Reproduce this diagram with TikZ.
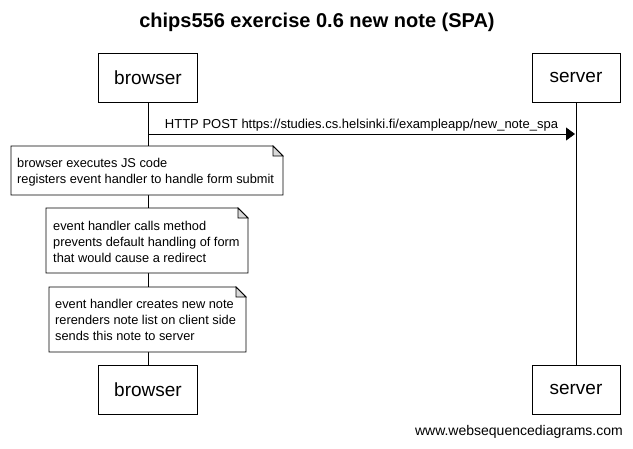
\documentclass[tikz,border=0pt]{standalone}
\usepackage{fontspec}
\setmainfont{Liberation Sans}
\usetikzlibrary{arrows.meta}
\tikzset{
  actor/.style={draw,line width=0.8pt,fill=white,minimum height=49pt,inner sep=0pt,font=\fontsize{19}{21}\selectfont},
  notebox/.style={align=left,inner sep=0pt,anchor=north west,font=\fontsize{12.8}{16}\selectfont},
  noteline/.style={draw,line width=0.8pt,fill=white},
  fold/.style={line width=0.8pt,fill=black!15},
  life/.style={line width=0.8pt},
  msg/.style={line width=0.8pt,-{Triangle[length=9pt,width=13pt]}},
}
\begin{document}
\begin{tikzpicture}[x=1pt,y=-1pt]
\useasboundingbox (0,0) rectangle (633,448);
\node[font=\bfseries\fontsize{20}{22}\selectfont] (title) at (317,22) {chips556 exercise 0.6 new note (SPA)};
\node[actor,minimum width=99pt] (bt) at (148,77.5) {browser};
\node[actor,minimum width=88pt] (st) at (576,77.5) {server};
\node[actor,minimum width=99pt] (bb) at (148,389.5) {browser};
\node[actor,minimum width=88pt] (sb) at (576,389.5) {server};
\draw[life] (bt.south) -- (bb.north);
\draw[life] (st.south) -- (sb.north);
\coordinate (a1) at (148,134);
\coordinate (a2) at (575,134);
\draw[msg] (a1) -- node[above=1pt,font=\fontsize{13}{15}\selectfont,inner sep=1pt] (m1) {HTTP POST https://studies.cs.helsinki.fi/exampleapp/new\_note\_spa} (a2);
% note 1
\coordinate (n1a) at (11,146); \coordinate (n1b) at (283,195);
\draw[noteline] (n1a) -- (273,146) -- (283,156) |- (n1b) -| cycle;
\draw[fold] (273,146) -- (273,156) -- (283,156) -- cycle;
\node[notebox] (n1) at (17,158) {browser executes JS code\\registers event handler to handle form submit};
% note 2
\coordinate (n2a) at (46,208); \coordinate (n2b) at (248,273);
\draw[noteline] (n2a) -- (238,208) -- (248,218) |- (n2b) -| cycle;
\draw[fold] (238,208) -- (238,218) -- (248,218) -- cycle;
\node[notebox] (n2) at (53,221) {event handler calls method\\prevents default handling of form\\that would cause a redirect};
% note 3
\coordinate (n3a) at (49,287); \coordinate (n3b) at (246,352);
\draw[noteline] (n3a) -- (236,287) -- (246,297) |- (n3b) -| cycle;
\draw[fold] (236,287) -- (236,297) -- (246,297) -- cycle;
\node[notebox] (n3) at (55,299) {event handler creates new note\\rerenders note list on client side\\sends this note to server};
\node[anchor=east,font=\fontsize{14}{16}\selectfont,inner sep=0pt] (foot) at (623,432) {www.websequencediagrams.com};
\end{tikzpicture}
\end{document}
